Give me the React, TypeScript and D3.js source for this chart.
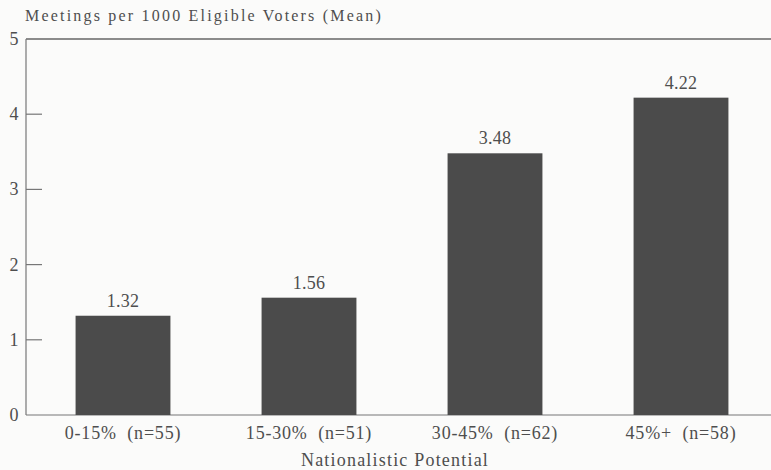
import React from "react";
import * as d3 from "d3";

const categories = ["0-15%  (n=55)", "15-30%  (n=51)", "30-45%  (n=62)", "45%+  (n=58)"];
const values = [1.32, 1.56, 3.48, 4.22];
const yTicks = [0, 1, 2, 3, 4, 5];
const yTitle = "Meetings per 1000 Eligible Voters (Mean)";
const xTitle = "Nationalistic Potential";

export default function App() {
  const W = 771, H = 470;
  const x0 = 26, yTop = 39, yBot = 415;
  const x = d3.scaleBand<string>().domain(categories).range([30, 774]).paddingInner(0.49).paddingOuter(0.245);
  const y = d3.scaleLinear().domain([0, 5]).range([yBot, yTop]);
  const font = "'Liberation Serif', 'Times New Roman', serif";
  const ink = "#4e4e4e";
  return (
    <svg width={W} height={H} style={{ position: "absolute", left: 0, top: 0, background: "#fbfbfa" }} fontFamily={font}>
      <rect x={0} y={0} width={W} height={H} fill="#fbfbfa" />
      <text x={25} y={21} fontSize={16} fill={ink} letterSpacing={2.2}>{yTitle}</text>
      <line x1={x0} x2={W} y1={yTop} y2={yTop} stroke="#666" strokeWidth={1.3} />
      <line x1={x0} x2={x0} y1={yTop} y2={yBot} stroke="#777" strokeWidth={1.2} />
      <line x1={x0} x2={W} y1={yBot} y2={yBot} stroke="#777" strokeWidth={1.2} />
      {yTicks.map((t) => (
        <g key={t}>
          {t > 0 && t < 5 && <line x1={x0} x2={x0 + 16} y1={y(t)} y2={y(t)} stroke="#777" strokeWidth={1.2} />}
          <text x={14} y={y(t) + 6} fontSize={18} fill={ink} textAnchor="middle">{t}</text>
        </g>
      ))}
      {categories.map((c, i) => (
        <g key={c}>
          <rect x={x(c)!} y={y(values[i])} width={x.bandwidth()} height={yBot - y(values[i])} fill="#4b4b4b" />
          <text x={x(c)! + x.bandwidth() / 2} y={y(values[i]) - 9} fontSize={18} fill={ink} textAnchor="middle" letterSpacing={0.2}>{values[i].toFixed(2)}</text>
          <text x={x(c)! + x.bandwidth() / 2} y={439} fontSize={18} fill={ink} textAnchor="middle" letterSpacing={0.8} style={{ whiteSpace: "pre" }}>{c}</text>
        </g>
      ))}
      <text x={395} y={466} fontSize={18} fill={ink} textAnchor="middle" letterSpacing={1.2}>{xTitle}</text>
    </svg>
  );
}
